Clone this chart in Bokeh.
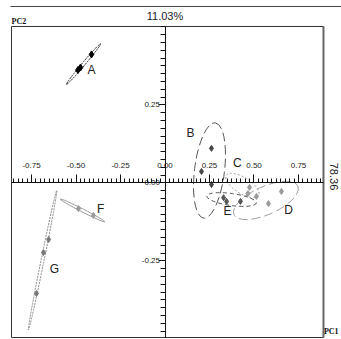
import numpy as np
from bokeh.plotting import figure
from bokeh.models import Range1d, LinearAxis, FixedTicker, NumeralTickFormatter
from bokeh.core.properties import value
from bokeh.embed import file_html
from bokeh.resources import INLINE

# ---- data (PC1, PC2 scores) ----
groups = ["A", "B", "C", "D", "E", "F", "G"]
pts_A_x = [-0.489, -0.475, -0.413]
pts_A_y = [0.362, 0.370, 0.412]
pts_B_x = [0.261, 0.205, 0.261]
pts_B_y = [0.111, 0.037, -0.005]
pts_C_x = [0.475, 0.466]
pts_C_y = [-0.014, -0.034]
pts_D_x = [0.654, 0.514, 0.581]
pts_D_y = [-0.027, -0.043, -0.066]
pts_E_x = [0.329, 0.346, 0.424]
pts_E_y = [-0.047, -0.059, -0.059]
pts_F_x = [-0.486, -0.402]
pts_F_y = [-0.082, -0.104]
pts_G_x = [-0.654, -0.683, -0.722]
pts_G_y = [-0.181, -0.223, -0.354]

# confidence ellipses: centre (data), major/minor (px), angle (deg)
ell_cx = [-0.458, 0.250, 0.435, 0.567, 0.374, -0.463, -0.688]
ell_cy = [0.381, 0.040, -0.008, -0.056, -0.053, -0.088, -0.248]
ell_major = [53, 96, 38, 70, 50, 50, 142]
ell_minor = [3, 30, 16, 28, 12, 3, 3]
ell_angle = [50, 83, -32, 24, -8, -27, 78.5]

label_x = [-0.413, 0.143, 0.407, 0.694, 0.351, -0.362, -0.621]
label_y = [0.361, 0.159, 0.0625, -0.085, -0.091, -0.082, -0.277]

x_ticks = [-0.75, -0.50, -0.25, 0.0, 0.25, 0.50, 0.75]
y_ticks = [-0.25, 0.0, 0.25]
pc1_pct = "78.36"
pc2_pct = "11.03%"

# ---- styles ----
pt_colors = ["#000000", "#444444", "#9a9a9a", "#9a9a9a", "#555555", "#9a9a9a", "#777777"]
ell_colors = ["#222222", "#555555", "#9a9a9a", "#a0a0a0", "#555555", "#9a9a9a", "#888888"]
ell_dash = ["2 1", "9 4", "2 2", "9 4", "4 3", "solid", "2 1"]
pt_sizes = [6, 5, 5, 5, 5, 5, 5]

FONT = value("Liberation Sans")

p = figure(width=341, height=339, output_backend="svg", toolbar_location=None,
           x_axis_type=None, y_axis_type=None, min_border=0,
           x_range=Range1d(-0.9242, 0.9916), y_range=Range1d(-0.5016, 0.5849))
p.outline_line_color = None
p.background_fill_color = "white"

# inner box and top rule
bx0, bx1, by0, by1 = -0.8624, 0.8904, -0.4952, 0.5016
p.line([bx0, bx1, bx1, bx0, bx0], [by1, by1, by0, by0, by1], line_color="#333333", line_width=1)
p.line([bx1, bx1], [by0, by1], line_color="#666666", line_width=2)
p.line([-0.868, 0.9916], [0.5657, 0.5657], line_color="#444444", line_width=1)

# axes through origin
xax = LinearAxis(fixed_location=0, bounds=(bx0, bx1),
                 ticker=FixedTicker(ticks=x_ticks,
                                    minor_ticks=list(np.round(np.arange(-0.85, 0.876, 0.025), 3))),
                 formatter=NumeralTickFormatter(format="0.00"))
xax.major_tick_out = 8
xax.major_tick_in = 0
xax.minor_tick_out = 4
xax.minor_tick_in = 0
xax.major_label_standoff = 7
xax.major_label_text_font = "Liberation Sans"
xax.major_label_text_font_size = "8px"
xax.major_label_text_color = "#222222"
xax.axis_line_color = "#111111"
xax.major_tick_line_color = "#111111"
xax.minor_tick_line_color = "#111111"
p.add_layout(xax, "above")

yax = LinearAxis(fixed_location=0, bounds=(by0, by1),
                 ticker=FixedTicker(ticks=y_ticks,
                                    minor_ticks=list(np.round(np.arange(-0.475, 0.501, 0.025), 3))),
                 formatter=NumeralTickFormatter(format="0.00"))
yax.major_tick_out = 7
yax.major_tick_in = 0
yax.minor_tick_out = 5
yax.minor_tick_in = 0
yax.major_label_standoff = -2
yax.major_label_text_font = "Liberation Sans"
yax.major_label_text_font_size = "8px"
yax.major_label_text_color = "#222222"
yax.axis_line_color = "#111111"
yax.major_tick_line_color = "#111111"
yax.minor_tick_line_color = "#111111"
p.add_layout(yax, "left")

# ellipses
for i in range(len(groups)):
    p.ellipse(x=[ell_cx[i]], y=[ell_cy[i]], width=ell_major[i], height=ell_minor[i],
              width_units="screen", height_units="screen",
              angle=np.deg2rad(ell_angle[i]), fill_color=None,
              line_color=ell_colors[i], line_width=1.0, line_dash=ell_dash[i])

# points
pts = [(pts_A_x, pts_A_y), (pts_B_x, pts_B_y), (pts_C_x, pts_C_y), (pts_D_x, pts_D_y),
       (pts_E_x, pts_E_y), (pts_F_x, pts_F_y), (pts_G_x, pts_G_y)]
for i, (xs, ys) in enumerate(pts):
    p.scatter(xs, ys, marker="diamond", size=pt_sizes[i] + 1, fill_color=pt_colors[i],
              line_color=pt_colors[i])

# group labels
p.text(x=label_x, y=label_y, text=groups, text_font=FONT, text_font_size="12px",
       text_align="center", text_baseline="middle", text_color="#222222")

# titles
p.text(x=[0.0], y=[0.5337], text=[pc2_pct], text_font=FONT, text_font_size="11px",
       text_align="center", text_baseline="middle", text_color="#222222")
p.text(x=[0.9512], y=[0.0208], text=[pc1_pct], text_font=FONT, text_font_size="11px",
       text_align="center", text_baseline="middle", text_color="#222222",
       angle=-np.pi / 2)
p.text(x=[-0.862], y=[0.503], text=["PC2"], text_font=value("Liberation Serif"),
       text_font_size="8px", text_align="left", text_baseline="bottom", text_color="#111111",
       text_font_style="bold")
p.text(x=[0.893], y=[-0.491], text=["PC1"], text_font=value("Liberation Serif"),
       text_font_size="8px", text_align="left", text_baseline="bottom", text_color="#111111",
       text_font_style="bold")

open("out.html", "w").write(file_html(p, INLINE))
